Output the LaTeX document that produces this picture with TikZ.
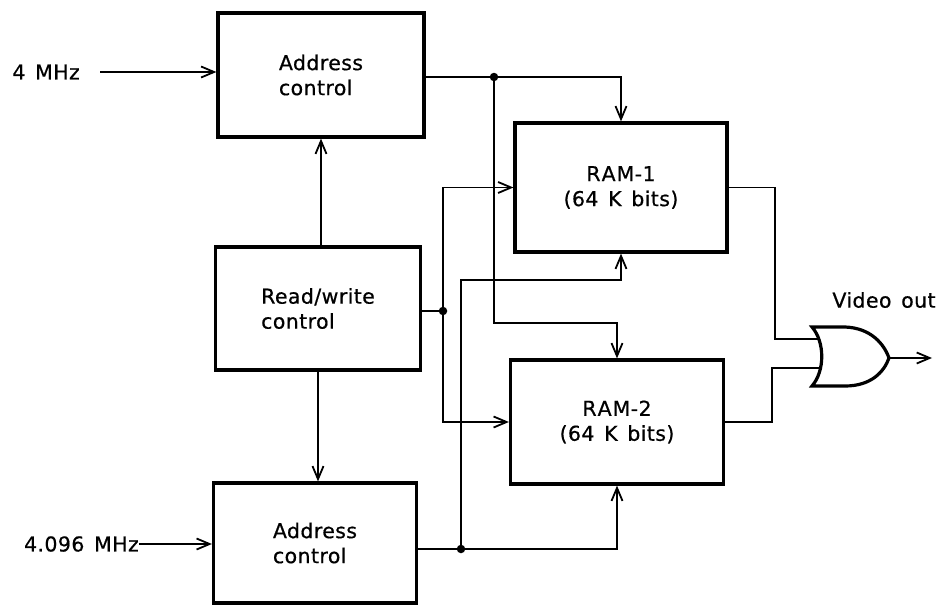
\documentclass[tikz,border=0pt]{standalone}
\usepackage{fontspec}
\setmainfont[LetterSpace=2,WordSpace=1.4,FakeBold=0.6]{DejaVu Sans}
\usetikzlibrary{arrows.meta}

\tikzset{
  blk/.style={draw, line width=3.2pt, align=left, inner sep=0pt,
    font=\fontsize{20.5pt}{25pt}\selectfont},
  ramblk/.style={blk, align=center},
  wire/.style={line width=1.8pt},
  arr/.style={wire, -{Straight Barb[length=13pt,width=11pt,line width=1.8pt]}},
  lbl/.style={inner sep=0pt, font=\fontsize{20.5pt}{25pt}\selectfont},
  dot/.style={fill, circle, inner sep=0pt, minimum size=8.5pt},
}

\begin{document}
\begin{tikzpicture}[x=1pt, y=-1pt, line join=miter]
\useasboundingbox (0,0) rectangle (940,605);

% functional blocks
\node[blk, minimum width=206pt, minimum height=124pt] (ac1) at (321,75) {Address\\control};
\node[blk, minimum width=205pt, minimum height=123pt] (rw)  at (318,308.5) {Read/write\\control};
\node[blk, minimum width=203pt, minimum height=120pt] (ac2) at (315,543) {Address\\control};
\node[ramblk, minimum width=212pt, minimum height=129pt] (ram1) at (621,187.5) {R\kern1ptA\kern1ptM-1\\(64 K bits)};
\node[ramblk, minimum width=213pt, minimum height=124pt] (ram2) at (617,422) {R\kern1ptA\kern1ptM-2\\(64 K bits)};

% clock inputs
\node[lbl, anchor=east] (f1) at (80,72) {4 MHz};
\node[lbl, anchor=east] (f2) at (139,544) {4.096 MHz};
\draw[arr] ([xshift=20pt]f1.east) -- (f1.east -| ac1.west);
\draw[arr] (f2.east) -- (f2.east -| ac2.west);

% read/write control to the address controls
\draw[arr] (rw.north -| ac1.south) -- (ac1.south);
\draw[arr] (rw.south) -- (rw.south |- ac2.north);

% branch points
\coordinate (j1) at (494,77);
\coordinate (j2) at (443,311);
\coordinate (j3) at (461,549);

% address bus from the upper address control
\draw[wire] (ac1.east |- j1) -- (j1);
\draw[arr] (j1) -| (ram1.north);
\draw[arr] (j1) -- ++(0,246) -| (ram2.north);

% read/write lines
\draw[wire] (rw.east |- j2) -- (j2);
\draw[arr] (j2) |- (ram1.west);
\draw[arr] (j2) |- (ram2.west);

% address bus from the lower address control
\draw[wire] (ac2.east |- j3) -- (j3);
\draw[arr] (j3) -| (ram2.south);
\draw[arr] (j3) -- ++(0,-269) -| (ram1.south);

\node[dot] at (j1) {};
\node[dot] at (j2) {};
\node[dot] at (j3) {};

% OR gate combining the two memories
\draw[line width=3.2pt]
  (812,327) -- (845,327)
  .. controls (871,328) and (884,344) .. (889,358)
  .. controls (884,372) and (871,386) .. (845,386)
  -- (812,386)
  .. controls (825,371) and (825,342) .. (812,327) -- cycle;
\coordinate (gin1) at (818,339);
\coordinate (gin2) at (819,368);
\coordinate (gout) at (889,358);
\coordinate (vout) at (932,358);

\draw[wire] (ram1.east) -- ++(46,0) |- (gin1);
\draw[wire] (ram2.east) -- ++(47,0) |- (gin2);
\draw[arr] (gout) -- (vout);
\node[lbl] (vo) at (884,300) {Video out};

\end{tikzpicture}
\end{document}
